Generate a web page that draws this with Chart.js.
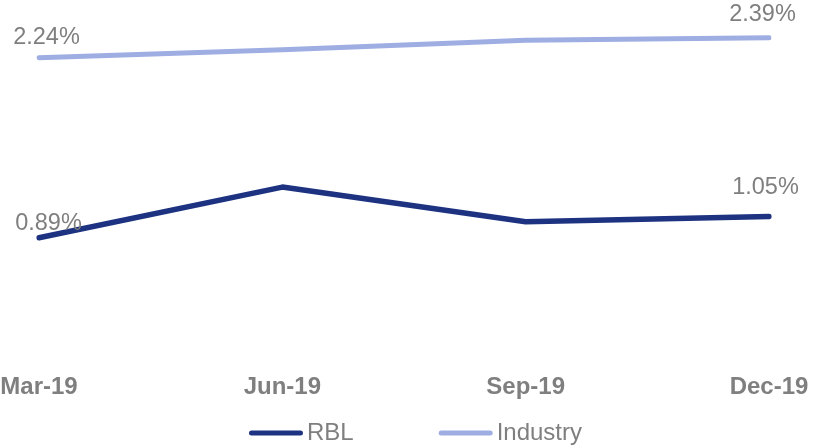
<!DOCTYPE html>
<html>
<head>
<meta charset="utf-8">
<script src="https://cdn.jsdelivr.net/npm/chart.js@4.4.1/dist/chart.umd.min.js"></script>
<style>
  html, body { margin: 0; padding: 0; background: #ffffff; }
  #wrap { width: 814px; height: 445px; }
</style>
</head>
<body>
<div id="wrap"><canvas id="c" width="814" height="445"></canvas></div>
<script>
// ---- data ----
const categories = ['Mar-19', 'Jun-19', 'Sep-19', 'Dec-19'];
const seriesNames = ['RBL', 'Industry'];
const rblValues = [0.89, 1.27, 1.01, 1.05];
const industryValues = [2.24, 2.30, 2.37, 2.39];
const labelledIndices = [0, 3];
const yRange = [0, 2.5];

// ---- style ----
const TEXT_COLOR = '#7f7f7f';
const FONT_FAMILY = "'Liberation Sans', Arial, sans-serif";
const COLORS = ['#1d3381', '#9eaee3'];

// per-dataset, per-label offsets (centre-x, baseline) relative to the point
const labelOffsets = [
  { 0: { dx: 9.5, dy: -7.7 }, 3: { dx: -3.5, dy: -22 } },
  { 0: { dx: 7.5, dy: -13.5 }, 3: { dx: -6.5, dy: -17 } }
];

const dataLabelPlugin = {
  id: 'dataLabels',
  afterDatasetsDraw(chart) {
    const ctx = chart.ctx;
    ctx.save();
    ctx.font = '23.5px ' + FONT_FAMILY;
    ctx.fillStyle = TEXT_COLOR;
    ctx.textAlign = 'center';
    ctx.textBaseline = 'alphabetic';
    chart.data.datasets.forEach((ds, i) => {
      const meta = chart.getDatasetMeta(i);
      labelledIndices.forEach(idx => {
        const el = meta.data[idx];
        const off = labelOffsets[i][idx];
        const text = ds.data[idx].toFixed(2) + '%';
        ctx.fillText(text, el.x + off.dx, el.y + off.dy);
      });
    });
    ctx.restore();
  }
};

const legendPlugin = {
  id: 'customLegend',
  afterDraw(chart) {
    const ctx = chart.ctx;
    const lineLen = 54, lineW = 5, gap = 4, itemGap = 85;
    const lineY = 433, textY = 440, centerX = 415.5;
    ctx.save();
    ctx.font = '24px ' + FONT_FAMILY;
    const items = chart.data.datasets.map(ds => ({
      label: ds.label, color: ds.borderColor, tw: ctx.measureText(ds.label).width
    }));
    let total = 0;
    items.forEach((it, k) => { total += lineLen + gap + it.tw + (k ? itemGap : 0); });
    let x = centerX - total / 2;
    items.forEach(it => {
      ctx.beginPath();
      ctx.lineCap = 'round';
      ctx.lineWidth = lineW;
      ctx.strokeStyle = it.color;
      ctx.moveTo(x + lineW / 2, lineY);
      ctx.lineTo(x + lineLen - lineW / 2, lineY);
      ctx.stroke();
      ctx.fillStyle = TEXT_COLOR;
      ctx.textAlign = 'left';
      ctx.textBaseline = 'alphabetic';
      ctx.fillText(it.label, x + lineLen + gap, textY);
      x += lineLen + gap + it.tw + itemGap;
    });
    ctx.restore();
  }
};

new Chart(document.getElementById('c'), {
  type: 'line',
  data: {
    labels: categories,
    datasets: [
      {
        label: seriesNames[0],
        data: rblValues,
        borderColor: COLORS[0],
        backgroundColor: COLORS[0],
        borderWidth: 5.5,
        borderCapStyle: 'round',
        borderJoinStyle: 'round',
        pointRadius: 0,
        tension: 0,
        fill: false
      },
      {
        label: seriesNames[1],
        data: industryValues,
        borderColor: COLORS[1],
        backgroundColor: COLORS[1],
        borderWidth: 5,
        borderCapStyle: 'round',
        borderJoinStyle: 'round',
        pointRadius: 0,
        tension: 0,
        fill: false
      }
    ]
  },
  options: {
    responsive: false,
    animation: false,
    devicePixelRatio: 1,
    layout: { padding: { left: 39, right: 45, top: 23, bottom: 45.5 } },
    plugins: {
      legend: { display: false },
      tooltip: { enabled: false },
      title: { display: false }
    },
    scales: {
      x: {
        offset: false,
        grid: { display: false, drawTicks: false },
        border: { display: false },
        ticks: {
          color: TEXT_COLOR,
          font: { family: FONT_FAMILY, size: 24, weight: 'bold' },
          padding: 16,
          maxRotation: 0,
          autoSkip: false
        },
        afterFit(scale) {
          scale.paddingLeft = 0;
          scale.paddingRight = 0;
          scale.height = 43;
        }
      },
      y: {
        display: false,
        min: yRange[0],
        max: yRange[1]
      }
    }
  },
  plugins: [dataLabelPlugin, legendPlugin]
});
</script>
</body>
</html>
